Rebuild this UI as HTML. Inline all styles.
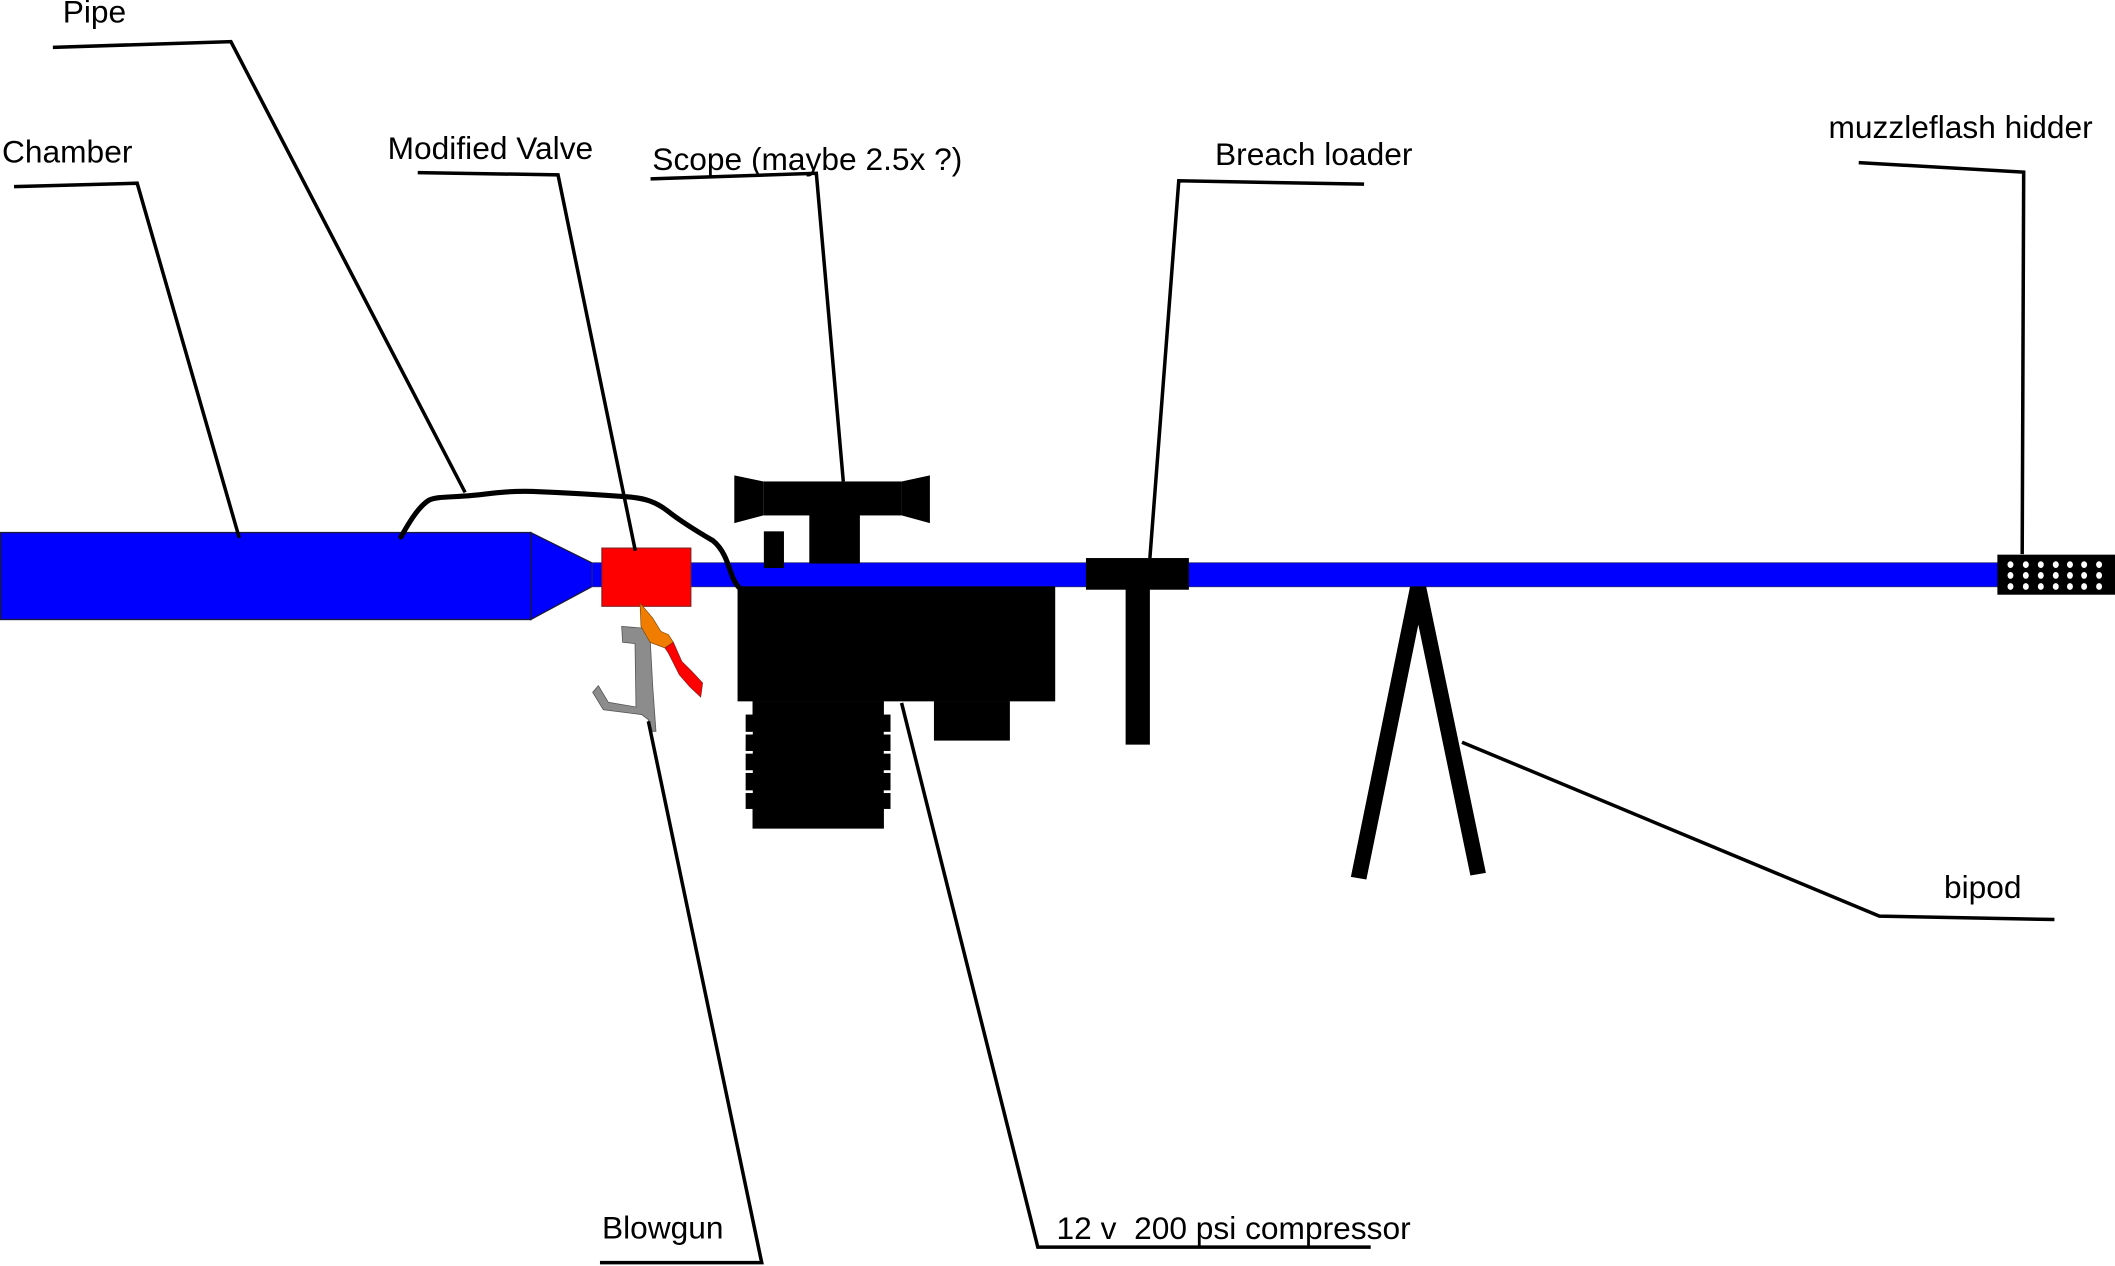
<!DOCTYPE html>
<html>
<head>
<meta charset="utf-8">
<style>
html,body{margin:0;padding:0;background:#fff;overflow:hidden;}
svg{display:block;}
text{font-family:"Liberation Sans",Arial,sans-serif;font-size:23.5px;fill:#000;white-space:pre;}
</style>
</head>
<body>
<svg width="2115" height="1266" viewBox="0 0 1568 939" preserveAspectRatio="none" xmlns="http://www.w3.org/2000/svg" xml:space="preserve">
<rect x="0" y="0" width="1568" height="939" fill="#fff"/>

<!-- Chamber -->
<rect x="0.5" y="395" width="393" height="64.5" fill="#0000ff" stroke="#1a1a40" stroke-width="1"/>
<!-- cone -->
<polygon points="393.5,395 439,417.6 439,435 393.5,459.5" fill="#0000ff" stroke="#1a1a40" stroke-width="1"/>
<!-- barrel -->
<rect x="439" y="417.4" width="1045" height="17.8" fill="#0000ff" stroke="#2a2a70" stroke-width="0.6"/>
<!-- valve -->
<rect x="446.2" y="406.5" width="66" height="43.2" fill="#ff0000" stroke="#802020" stroke-width="0.8"/>

<!-- trigger parts -->
<polygon points="460.9,464.6 475.7,465.8 481.9,472 483.9,509 486.3,542.4 481.4,542.4 480.7,533.8 475.7,530 447.3,526.4 439.4,513.5 443.6,508.6 451,520.9 471.5,524.4 470.8,477.4 461.6,476.4" fill="#8c8c8c" stroke="#555" stroke-width="0.6"/>
<polygon points="474.5,447.3 483.9,458.4 490,468.3 495.5,470.7 499.2,476.4 493,480.6 481.9,476.4 475.2,464.6" fill="#f07c00" stroke="#7a4a10" stroke-width="0.5"/>
<polygon points="493,480.6 499.2,476.4 505.4,490.5 512.8,497.9 520.9,506.6 519.5,517 511.5,509.5 503.6,500.4 495.5,484.3" fill="#ff0000" stroke="#802020" stroke-width="0.5"/>

<!-- Scope -->
<polygon points="544.4,352.6 565.9,357.1 565.9,382.3 544.4,388" fill="#000"/>
<rect x="565.9" y="357.1" width="102.5" height="25.2" fill="#000"/>
<polygon points="668.4,357.1 689.4,352.6 689.4,388 668.4,382.3" fill="#000"/>
<rect x="600" y="382" width="37.5" height="36" fill="#000"/>
<rect x="566.3" y="394.1" width="14.9" height="27.2" fill="#000"/>

<!-- Compressor -->
<rect x="546.8" y="434.9" width="235.5" height="85.3" fill="#000"/>
<rect x="692.4" y="520" width="56.3" height="29.3" fill="#000"/>
<rect x="557.9" y="520" width="97.4" height="94.6" fill="#000"/>
<rect x="552.8" y="530" width="107.4" height="70" fill="#000"/>
<!-- fin notches -->
<rect x="552.3" y="542.8" width="5.8" height="2" fill="#fff"/>
<rect x="655.2" y="542.8" width="5.8" height="2" fill="#fff"/>
<rect x="552.3" y="557" width="5.8" height="2" fill="#fff"/>
<rect x="655.2" y="557" width="5.8" height="2" fill="#fff"/>
<rect x="552.3" y="571.3" width="5.8" height="2" fill="#fff"/>
<rect x="655.2" y="571.3" width="5.8" height="2" fill="#fff"/>
<rect x="552.3" y="586.2" width="5.8" height="2" fill="#fff"/>
<rect x="655.2" y="586.2" width="5.8" height="2" fill="#fff"/>

<!-- Breach loader -->
<rect x="805.1" y="413.9" width="76.3" height="23.5" fill="#000"/>
<rect x="834.5" y="437" width="18" height="115.3" fill="#000"/>

<!-- Bipod -->
<polygon points="1045.4,434.9 1057.3,434.9 1101.6,647.4 1090.1,649.4 1051.5,463.3 1013,652.3 1001.5,650.4" fill="#000"/>

<!-- Muzzle -->
<rect x="1480.8" y="411.4" width="90" height="29.7" fill="#000"/>
<g fill="#fff">
<ellipse cx="1490.5" cy="418.8" rx="2.2" ry="2.5"/><ellipse cx="1501.9" cy="418.8" rx="2.2" ry="2.5"/><ellipse cx="1513" cy="418.8" rx="2.2" ry="2.5"/><ellipse cx="1524.1" cy="418.8" rx="2.2" ry="2.5"/><ellipse cx="1534.6" cy="418.8" rx="2.2" ry="2.5"/><ellipse cx="1545.1" cy="418.8" rx="2.2" ry="2.5"/><ellipse cx="1556.2" cy="418.8" rx="2.2" ry="2.5"/>
<ellipse cx="1490.5" cy="426.8" rx="2.2" ry="2.5"/><ellipse cx="1501.9" cy="426.8" rx="2.2" ry="2.5"/><ellipse cx="1513" cy="426.8" rx="2.2" ry="2.5"/><ellipse cx="1524.1" cy="426.8" rx="2.2" ry="2.5"/><ellipse cx="1534.6" cy="426.8" rx="2.2" ry="2.5"/><ellipse cx="1545.1" cy="426.8" rx="2.2" ry="2.5"/><ellipse cx="1556.2" cy="426.8" rx="2.2" ry="2.5"/>
<ellipse cx="1490.5" cy="435" rx="2.2" ry="2.5"/><ellipse cx="1501.9" cy="435" rx="2.2" ry="2.5"/><ellipse cx="1513" cy="435" rx="2.2" ry="2.5"/><ellipse cx="1524.1" cy="435" rx="2.2" ry="2.5"/><ellipse cx="1534.6" cy="435" rx="2.2" ry="2.5"/><ellipse cx="1545.1" cy="435" rx="2.2" ry="2.5"/><ellipse cx="1556.2" cy="435" rx="2.2" ry="2.5"/>
</g>

<!-- Pipe wire -->
<path d="M297.2,398.3 C303,388 310,376 318,371 C324,368 335,369 350,367.5 C365,366 375,364 395,364.5 C420,365.5 445,367 465,368.5 C478,369.5 486,372 495,379 C505,387 520,396 528.5,401 C536,407 539,416 542,425 C544,431 546.5,435 549.8,437.4" fill="none" stroke="#000" stroke-width="3.8" stroke-linecap="round"/>

<!-- Leader lines -->
<g fill="none" stroke="#000" stroke-width="2.6" stroke-linejoin="miter">
<polyline points="39.2,35.1 171.2,30.9 344.8,365.2"/>
<polyline points="10.4,138.4 101.7,135.9 177.4,399"/>
<polyline points="309.7,128 413.7,129.7 471,408.5"/>
<polyline points="482.3,132.7 605.2,128.5 625.2,357.1"/>
<polyline points="1011.3,136.6 873.9,134.1 852.5,413.9"/>
<polyline points="1378,120.6 1500.3,127.7 1499.2,411"/>
<polyline points="1083.9,550.5 1393.3,679.5 1523.1,682"/>
<polyline points="480.7,535 564.7,936.5 444.8,936.5"/>
<polyline points="668.4,521.4 769.4,925 1016.2,925"/>
</g>

<!-- Labels -->
<text x="46.5" y="16.8">Pipe</text>
<text x="1.5" y="120.6">Chamber</text>
<text x="287.4" y="118.1">Modified Valve</text>
<text x="483.6" y="126.2">Scope (maybe 2.5x ?)</text>
<text x="900.8" y="122.3">Breach loader</text>
<text x="1355.6" y="102.5">muzzleflash hidder</text>
<text x="1441.2" y="665.9">bipod</text>
<text x="446.3" y="918.7">Blowgun</text>
<text x="783.3" y="919">12 v  200 psi compressor</text>
</svg>
</body>
</html>
